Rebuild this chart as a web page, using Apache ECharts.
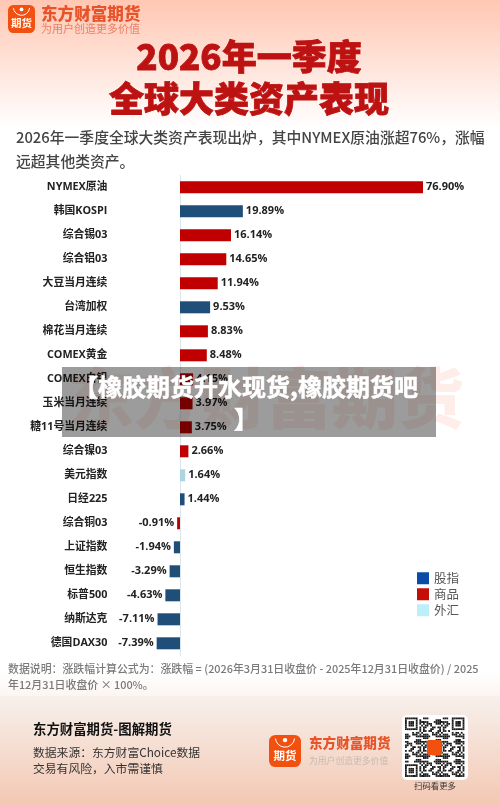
<!DOCTYPE html>
<html><head><meta charset="utf-8">
<script src="https://cdn.jsdelivr.net/npm/echarts@6/dist/echarts.min.js"></script>
<style>html,body{margin:0;padding:0;background:#fff}#c{width:500px;height:805px}</style>
</head><body><div id="c"></div>
<script>
const categories = ['NYMEX原油','韩国KOSPI','综合锡03','综合铝03','大豆当月连续','台湾加权','棉花当月连续','COMEX黄金','COMEX白银','玉米当月连续','糖11号当月连续','综合镍03','美元指数','日经225','综合铜03','上证指数','恒生指数','标普500','纳斯达克','德国DAX30'];
const values = [76.90,19.89,16.14,14.65,11.94,9.53,8.83,8.48,4.15,3.97,3.75,2.66,1.64,1.44,-0.91,-1.94,-3.29,-4.63,-7.11,-7.39];
const assetClass = ['商品','股指','商品','商品','商品','股指','商品','商品','商品','商品','商品','商品','外汇','股指','商品','股指','股指','股指','股指','股指'];
const classNames = ['股指','商品','外汇'];
const barColors = {'股指':'#1F4E79','商品':'#C00000','外汇':'#ADD4DF'};
const legendColors = {'股指':'#0B4BA8','商品':'#C40E06','外汇':'#BDEFFB'};

const CJK = '"Noto Sans CJK SC","Noto Sans",sans-serif';
const MIX = '"Open Sans","Noto Sans CJK SC",sans-serif';
const chart = echarts.init(document.getElementById('c'), null, {renderer:'canvas'});

function txt(x,y,text,size,color,weight,extra,z){
  return {type:'text',x:x,y:y,z:z===undefined?5:z,style:Object.assign({text:text,fontSize:size,fill:color,fontWeight:weight||400,fontFamily:CJK,textVerticalAlign:'middle',textBaseline:'middle'},extra||{})};
}
function logo(x,y,w,h,fs){
  return [
    {type:'rect',z:5,shape:{x:x,y:y,width:w,height:h,r:w*0.2},style:{fill:'#F2500F'}},
    {type:'arc',z:6,shape:{cx:x+w/2,cy:y+h*0.08,r:w*0.3,startAngle:0.1,endAngle:Math.PI-0.1},style:{stroke:'#fff',fill:'none',lineWidth:1}},
    {type:'circle',z:6,shape:{cx:x+w/2,cy:y+h*0.16,r:w*0.07},style:{fill:'#fff'}},
    txt(x+w/2,y+h*0.66,'期货',fs,'#fff',700,{textAlign:'center'})
  ];
}
function qr(){
  const out=[], n=33, s=1.8, ox=405, oy=717.5;
  const isFinder=(r,c,fr,fc)=>{
    const a=r-fr,b=c-fc;
    if(a<0||a>6||b<0||b>6) return null;
    return a===0||a===6||b===0||b===6||(a>=2&&a<=4&&b>=2&&b<=4);
  };
  for(let r=0;r<n;r++)for(let c=0;c<n;c++){
    let on=null;
    for(const f of [[0,0],[0,26],[26,0]]){const v=isFinder(r,c,f[0],f[1]);if(v!==null)on=v;}
    if(on===null){
      if((r===7&&(c<8||c>24))||(c===7&&(r<8||r>24))||(r===25&&c<8)||(c===25&&r<8)) on=false;
      else on=((r*r*7+c*c*13+r*c*5+r*3+c*11)%11)<5;
    }
    if(on) out.push({type:'rect',z:6,shape:{x:ox+c*s,y:oy+r*s,width:s,height:s},style:{fill:'#1a1a1a'}});
  }
  return out;
}

const graphicEls = [
  {type:'rect',z:-20,shape:{x:0,y:0,width:500,height:128},style:{fill:new echarts.graphic.LinearGradient(0,0,0,1,[{offset:0,color:'#FFC7B3'},{offset:0.5,color:'#FFE3D9'},{offset:1,color:'#FFFFFF'}])}},
  {type:'rect',z:-20,shape:{x:0,y:672,width:500,height:24},style:{fill:new echarts.graphic.LinearGradient(0,0,0,1,[{offset:0,color:'#FFFFFF'},{offset:1,color:'#FDF5F1'}])}},
  {type:'rect',z:-20,shape:{x:0,y:696,width:500,height:109},style:{fill:new echarts.graphic.LinearGradient(0,0,0,1,[{offset:0,color:'#F7F0EC'},{offset:1,color:'#F3C8B3'}])}},
  // watermark
  txt(266,398,'东方财富期货',66,'#FEEDE8',900,{textAlign:'center'},-5),
  // header logo
  ...logo(8,5,27,28,10.5),
  txt(41,14,'东方财富期货',16.6,'#E8542A',900),
  txt(41,28.5,'为用户创造更多价值',11,'#EA8066',400),
  // titles
  txt(249,57,'2026年一季度',35,'#BD1212',900,{textAlign:'center',stroke:'#BD1212',lineWidth:0.8}),
  txt(249,99,'全球大类资产表现',35,'#BD1212',900,{textAlign:'center',stroke:'#BD1212',lineWidth:0.8}),
  txt(16,137,'2026年一季度全球大类资产表现出炉，其中NYMEX原油涨超76%，涨幅',14.8,'#444444',500),
  txt(16,161,'远超其他类资产。',14.8,'#444444',500),
  // footnotes
  txt(8,669,'数据说明：涨跌幅计算公式为：涨跌幅 = (2026年3月31日收盘价 - 2025年12月31日收盘价) / 2025',10.9,'#7A7A7A',500),
  txt(8,685,'年12月31日收盘价 × 100%。',10.9,'#7A7A7A',500),
  // footer
  txt(33,729,'东方财富期货-图解期货',13.4,'#111111',700),
  txt(33,753,'数据来源：东方财富Choice数据',11.8,'#333333',400),
  txt(33,769,'交易有风险，入市需谨慎',11.8,'#333333',400),
  ...logo(269,735,32,32,11.5),
  txt(309,743,'东方财富期货',13.6,'#E8542A',900),
  txt(309,761,'为用户创造更多价值',8.8,'#C9B9B0',400),
  {type:'rect',z:5,shape:{x:402,y:715,width:66,height:65,r:5},style:{fill:'#fff'}},
  ...qr(),
  {type:'rect',z:7,shape:{x:427,y:740,width:15,height:15,r:2},style:{fill:'#F2500F'}},
  txt(435,786,'扫码看更多',8.4,'#333333',400,{textAlign:'center'}),
  // overlay band
  {type:'rect',z:100,shape:{x:62,y:367,width:374,height:70},style:{fill:'rgba(0,0,0,0.39)'}},
  {type:'text',z:101,x:246,y:403,style:{text:'【橡胶期货升水现货,橡胶期货吧\n】',fontSize:24,lineHeight:32,fontWeight:700,fill:'#fff',stroke:'#fff',lineWidth:0.5,fontFamily:CJK,textAlign:'center',textVerticalAlign:'middle',textBaseline:'middle'}}
];

const series = classNames.map(name => ({
  name:name, type:'bar', barWidth:12, barGap:'-100%', z:3,
  itemStyle:{color:barColors[name]},
  data: values.map((v,i)=> assetClass[i]===name ? {value:v,label:{position:v<0?'left':'right'}} : null),
  label:{show:true,distance:3,fontSize:11,fontWeight:700,color:'#222',fontFamily:MIX,padding:[2,0,0,0],
    formatter:p=>p.value.toFixed(2)+'%'}
}));

chart.setOption({
  animation:false,
  backgroundColor:'#fff',
  grid:{left:148.4,width:316,top:175.3,height:480,outerBoundsMode:'none'},
  xAxis:{type:'value',min:-10,max:90,show:false},
  yAxis:{type:'category',inverse:true,data:categories,
    axisTick:{show:false},
    axisLine:{show:true,onZero:true,lineStyle:{color:'#DCE6EE',width:1}},
    axisLabel:{margin:41,fontSize:10.8,fontWeight:700,color:'#222',fontFamily:MIX,padding:[2,0,0,0]},
    splitLine:{show:false}},
  legend:{orient:'vertical',left:417,top:572,padding:0,itemWidth:12,itemHeight:12,itemGap:3.5,icon:'rect',
    textStyle:{fontSize:12.5,color:'#555',fontFamily:CJK},
    data:classNames.map(n=>({name:n,itemStyle:{color:legendColors[n]}}))},
  series:series,
  graphic:{elements:graphicEls}
});
</script></body></html>
